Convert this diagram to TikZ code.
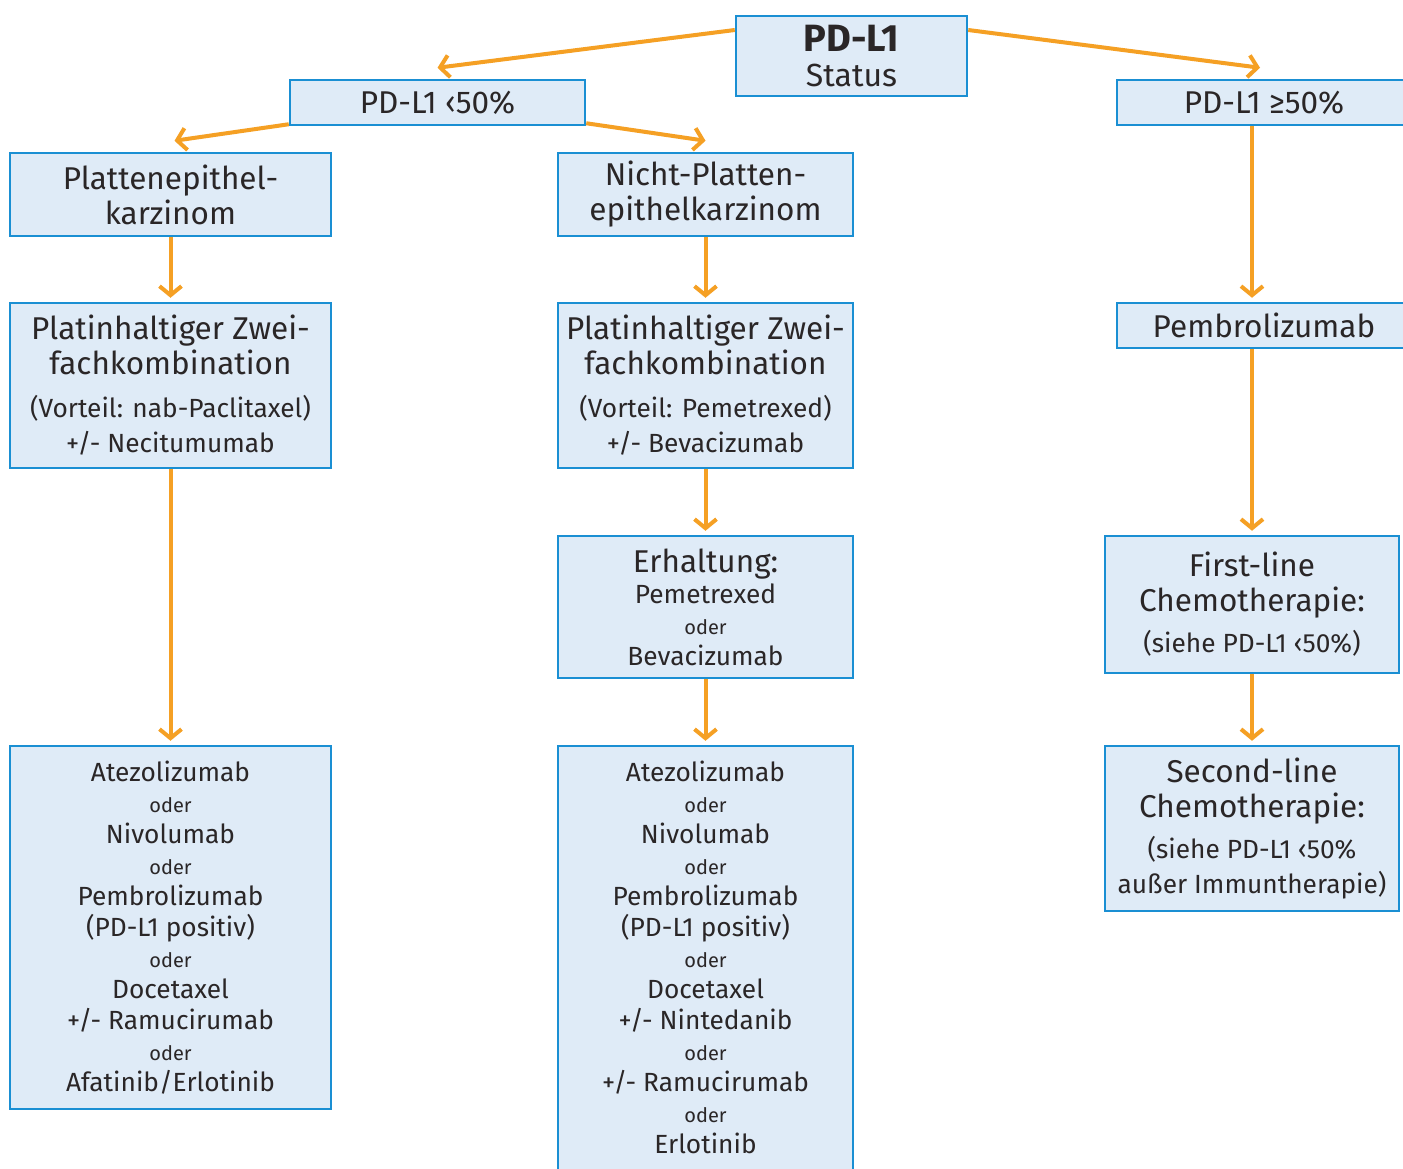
\documentclass[tikz,border=0pt]{standalone}
\usepackage{fontspec}
\setmainfont{Fira Sans}
\usetikzlibrary{arrows.meta}
\definecolor{boxfill}{HTML}{DFEBF7}
\definecolor{boxline}{HTML}{1A8FD3}
\definecolor{arr}{HTML}{F5A024}
\definecolor{txt}{HTML}{2A2627}
\newcommand{\fbig}{\fontsize{31.5}{35}\selectfont}
\newcommand{\fmed}{\fontsize{26.3}{31}\selectfont}
\newcommand{\fsm}{\fontsize{20}{31}\selectfont}
\begin{document}
\begin{tikzpicture}[x=1pt,y=-1pt,
  box/.style={draw=boxline,fill=boxfill,line width=2.5pt,inner sep=0pt,align=center,text=txt},
  conn/.style={draw=arr,line width=4pt,-{Straight Barb[length=9pt,width=22pt]}}]
\useasboundingbox[fill=white] (0,0) rectangle (1403,1168);

% nodes
\node[box,minimum width=231,minimum height=80,font=\fbig] (status) at (851.5,56)
  {{\fontsize{38}{35}\selectfont\bfseries PD-L1}\\{\fontsize{32}{35}\selectfont Status}};
\node[box,minimum width=295,minimum height=45,font=\fbig] (lt) at (437.5,102.5) {PD-L1 ‹50\%};
\node[box,minimum width=294,minimum height=45,font=\fbig] (ge) at (1264,102.5) {PD-L1 ≥50\%};
\node[box,minimum width=321,minimum height=83,font=\fbig] (pe) at (170.5,194.5) {Plattenepithel-\\karzinom};
\node[box,minimum width=295,minimum height=83,font=\fbig] (npe) at (705.5,194.5) {Nicht-Platten-\\epithelkarzinom};
\node[box,minimum width=321,minimum height=165,font=\fbig] (pl1) at (170.5,385.5)
  {Platinhaltiger Zwei-\\fachkombination\\[8pt]{\fmed (Vorteil: nab-Paclitaxel)}\\{\fmed +/- Necitumumab}};
\node[box,minimum width=295,minimum height=165,font=\fbig] (pl2) at (705.5,385.5)
  {Platinhaltiger Zwei-\\fachkombination\\[8pt]{\fmed (Vorteil: Pemetrexed)}\\{\fmed +/- Bevacizumab}};
\node[box,minimum width=294,minimum height=45,font=\fbig] (pem) at (1264,325.5) {Pembrolizumab};
\node[box,minimum width=295,minimum height=142,font=\fmed] (erh) at (705.5,607)
  {{\fbig Erhaltung:}\\Pemetrexed\\{\fsm oder}\\Bevacizumab};
\node[box,minimum width=294,minimum height=137,font=\fbig] (fl) at (1252,604.5)
  {First-line\\Chemotherapie:\\[6pt]{\fmed (siehe PD-L1 ‹50\%)}};
\node[box,minimum width=294,minimum height=165,font=\fbig] (sl) at (1252,828.5)
  {Second-line\\Chemotherapie:\\[6pt]{\fmed (siehe PD-L1 ‹50\%}\\{\fmed außer Immuntherapie)}};
\node[box,minimum width=321,minimum height=363,font=\fmed] (bl) at (170.5,927.5)
  {Atezolizumab\\{\fsm oder}\\Nivolumab\\{\fsm oder}\\Pembrolizumab\\(PD-L1 positiv)\\{\fsm oder}\\Docetaxel\\+/- Ramucirumab\\{\fsm oder}\\Afatinib/Erlotinib};
\node[box,minimum width=295,minimum height=434,font=\fmed] (bm) at (705.5,963)
  {Atezolizumab\\{\fsm oder}\\Nivolumab\\{\fsm oder}\\Pembrolizumab\\(PD-L1 positiv)\\{\fsm oder}\\Docetaxel\\+/- Nintedanib\\{\fsm oder}\\+/- Ramucirumab\\{\fsm oder}\\Erlotinib\rule[-12pt]{0pt}{12pt}};

% connectors
\draw[conn] ([yshift=26pt]status.west) -- ([yshift=11pt]lt.north);
\draw[conn] ([yshift=26pt]status.east) -- ([xshift=-4pt,yshift=11pt]ge.north);
\draw[conn] ([yshift=2pt]lt.south west) -- ([xshift=4pt,yshift=11pt]pe.north);
\draw[conn] ([yshift=3pt]lt.south east) -- ([yshift=11pt]npe.north);
\draw[conn] (pe.south) -- ([yshift=4pt]pl1.north);
\draw[conn] (npe.south) -- ([yshift=4pt]pl2.north);
\draw[conn] (pl1.south) -- ([yshift=4pt]bl.north);
\draw[conn] (pl2.south) -- ([yshift=4pt]erh.north);
\draw[conn] (erh.south) -- ([yshift=4pt]bm.north);
\draw[conn] (ge.south -| fl.north) -- ([yshift=4pt]pem.north -| fl.north);
\draw[conn] (pem.south -| fl.north) -- ([yshift=4pt]fl.north);
\draw[conn] (fl.south) -- ([yshift=4pt]sl.north);
\end{tikzpicture}
\end{document}
